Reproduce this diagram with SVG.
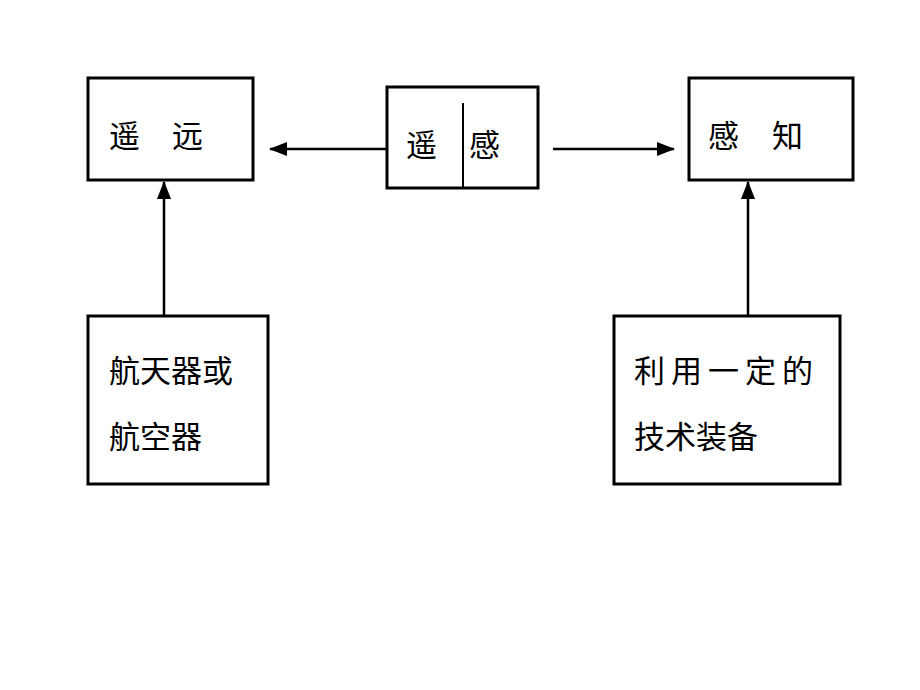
<svg xmlns="http://www.w3.org/2000/svg" width="920" height="690" viewBox="0 0 920 690">
<style>
.box{fill:#fff;stroke:#000;stroke-width:3}
.t{font-family:"Noto Sans CJK SC","Noto Sans",sans-serif;font-size:31px;fill:#000}
.ln{stroke:#000;stroke-width:2.5;fill:none}
</style>
<defs>
<marker id="ah" markerWidth="18" markerHeight="14" refX="17" refY="7" orient="auto" markerUnits="userSpaceOnUse" viewBox="0 0 18 14">
<path d="M0,0 L18,7 L0,14 z" fill="#000"/>
</marker>
</defs>
<rect width="920" height="690" fill="#fff"/>
<g id="connectors">
<line class="ln" x1="387" y1="149" x2="270" y2="149" marker-end="url(#ah)"/>
<line class="ln" x1="553" y1="149" x2="674" y2="149" marker-end="url(#ah)"/>
<line class="ln" x1="164" y1="316" x2="164" y2="182" marker-end="url(#ah)"/>
<line class="ln" x1="748" y1="316" x2="748" y2="182" marker-end="url(#ah)"/>
</g>
<g id="yaoyuan">
<rect class="box" x="88" y="78" width="165" height="102"/>
<text class="t" x="109" y="147">遥</text>
<text class="t" x="172" y="147">远</text>
</g>
<g id="yaogan">
<rect class="box" x="387" y="87" width="151" height="101"/>
<line stroke="#000" stroke-width="2" x1="463" y1="103" x2="463" y2="188"/>
<text class="t" x="406" y="156">遥</text>
<text class="t" x="469" y="156">感</text>
</g>
<g id="ganzhi">
<rect class="box" x="689" y="78" width="164" height="102"/>
<text class="t" x="708" y="147">感</text>
<text class="t" x="772" y="147">知</text>
</g>
<g id="hangtian">
<rect class="box" x="88" y="316" width="180" height="168"/>
<text class="t" x="109" y="382">航天器或</text>
<text class="t" x="109" y="448">航空器</text>
</g>
<g id="jishu">
<rect class="box" x="614" y="316" width="226" height="168"/>
<text class="t" x="634" y="382" letter-spacing="6">利用一定的</text>
<text class="t" x="634" y="448">技术装备</text>
</g>
</svg>
